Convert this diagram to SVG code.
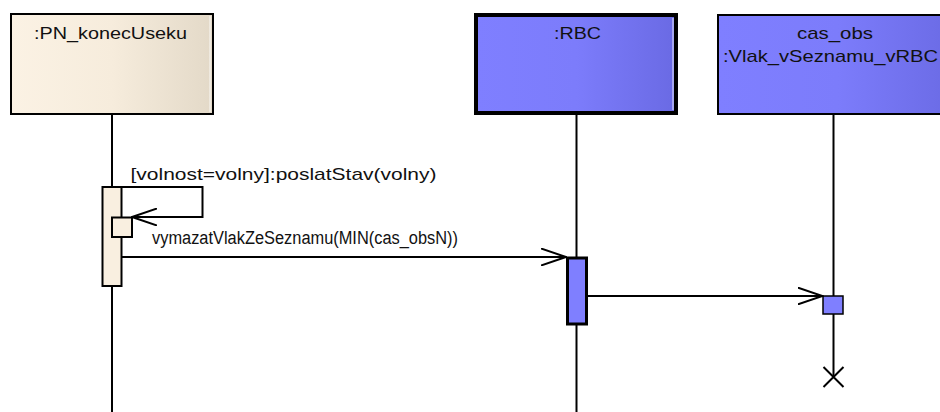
<svg xmlns="http://www.w3.org/2000/svg" width="940" height="412" viewBox="0 0 940 412">
  <defs>
    <linearGradient id="gCream" x1="0" y1="0" x2="1" y2="0">
      <stop offset="0" stop-color="#FBF2E4"/>
      <stop offset="0.5" stop-color="#F6ECDC"/>
      <stop offset="1" stop-color="#E3D9C8"/>
    </linearGradient>
    <linearGradient id="gBlue" x1="0" y1="0" x2="1" y2="0">
      <stop offset="0" stop-color="#7F7FFF"/>
      <stop offset="0.5" stop-color="#7C7CFB"/>
      <stop offset="1" stop-color="#6A6AE4"/>
    </linearGradient>
    <marker id="open" viewBox="0 0 26 18" refX="25" refY="9" markerWidth="26" markerHeight="18" markerUnits="userSpaceOnUse" orient="auto">
      <path d="M0,0.5 L25,9 L0,17.5" fill="none" stroke="#000" stroke-width="2"/>
    </marker>
  </defs>
  <style>
    .lbl { font-family: "Liberation Sans", Arial, sans-serif; font-size: 17px; fill: #111; }
    .big { font-size: 18px; }
    .life { stroke: #000; stroke-width: 2; fill: none; }
    .msg { stroke: #000; stroke-width: 2; fill: none; }
    .hl { stroke: #ffffff; stroke-opacity: 0.55; stroke-width: 1.5; fill: none; }
  </style>

  <rect width="940" height="412" fill="#fff"/>

  <!-- lifelines -->
  <g id="lifelines">
    <line class="life" x1="112" y1="114" x2="112" y2="187"/>
    <line class="life" x1="112" y1="286" x2="112" y2="412"/>
    <line class="life" x1="576.5" y1="114" x2="576.5" y2="258"/>
    <line class="life" x1="576.5" y1="324" x2="576.5" y2="412"/>
    <line class="life" x1="833.5" y1="114" x2="833.5" y2="296"/>
    <line class="life" x1="833.5" y1="314" x2="833.5" y2="377"/>
  </g>

  <!-- participant :PN_konecUseku -->
  <g id="pn">
    <rect x="11" y="14" width="202" height="100" fill="url(#gCream)" stroke="#000" stroke-width="2"/>
    <line class="hl" x1="210" y1="16" x2="210" y2="112"/>
    <text class="lbl" x="34" y="39" textLength="153" lengthAdjust="spacingAndGlyphs">:PN_konecUseku</text>
    <rect x="102.5" y="187" width="19" height="99" fill="#F9EFE0" stroke="#000" stroke-width="2"/>
    <rect x="112" y="217.5" width="20" height="19.5" fill="#F9EFE0" stroke="#000" stroke-width="2"/>
  </g>

  <!-- participant :RBC -->
  <g id="rbc">
    <rect x="476" y="15" width="200" height="98" fill="url(#gBlue)" stroke="#000" stroke-width="4"/>
    <line class="hl" x1="673" y1="18" x2="673" y2="110"/>
    <text class="lbl" x="554" y="39" textLength="47" lengthAdjust="spacingAndGlyphs">:RBC</text>
    <rect x="567.5" y="258" width="19" height="66" fill="#7F7FFF" stroke="#000" stroke-width="3"/>
  </g>

  <!-- participant cas_obs :Vlak_vSeznamu_vRBC -->
  <g id="cas_obs">
    <rect x="718" y="15" width="240" height="99" fill="url(#gBlue)" stroke="#000" stroke-width="2"/>
    <text class="lbl" x="797" y="39" textLength="76" lengthAdjust="spacingAndGlyphs">cas_obs</text>
    <text class="lbl" x="723" y="62" textLength="215" lengthAdjust="spacingAndGlyphs">:Vlak_vSeznamu_vRBC</text>
    <rect x="823" y="296" width="20" height="18" fill="#7F7FFF" stroke="#000" stroke-width="1.5"/>
    <path d="M823.5,367 L843.5,387 M843.5,367 L823.5,387" stroke="#000" stroke-width="2" fill="none"/>
  </g>

  <!-- messages -->
  <g id="connectors">
    <path class="msg" d="M122,187 H202.5 V217 H132" marker-end="url(#open)"/>
    <text class="lbl" x="130.5" y="180" textLength="306" lengthAdjust="spacingAndGlyphs">[volnost=volny]:poslatStav(volny)</text>
    <line class="msg" x1="122" y1="257" x2="566" y2="257" marker-end="url(#open)"/>
    <text class="lbl big" x="152" y="244" textLength="306" lengthAdjust="spacingAndGlyphs">vymazatVlakZeSeznamu(MIN(cas_obsN))</text>
    <line class="msg" x1="587" y1="296" x2="822.5" y2="296" marker-end="url(#open)"/>
  </g>
</svg>
